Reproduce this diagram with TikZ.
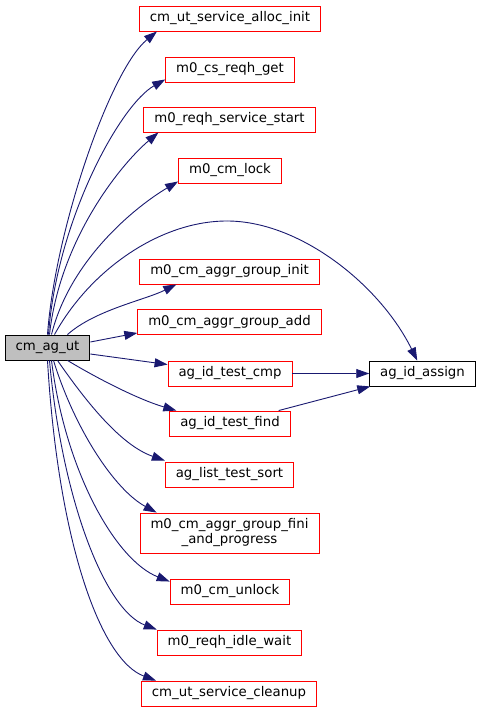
\documentclass[tikz,border=0pt]{standalone}
\usepackage{fontspec}
\setmainfont{DejaVu Sans}
\usepackage{xcolor}
\definecolor{callblue}{RGB}{25, 25, 112}
\definecolor{fnred}{RGB}{255, 0, 0}
\definecolor{fngray}{RGB}{191, 191, 191}
\usetikzlibrary{arrows.meta}

\tikzset{
    fn/.style={draw=fnred, fill=white, line width=0.9bp, inner xsep=10.5bp, inner ysep=0pt,
        minimum height=25bp, font=\fontsize{13.3bp}{15bp}\selectfont, align=center},
    call/.style={->, draw=callblue, line width=0.9bp}
}

\begin{document}
\begin{tikzpicture}[x=1bp, y=-1bp, >={Triangle[length=13bp, width=9bp]}]
\useasboundingbox (0,0) rectangle (481,712);

% === Funcion raiz ===
\node[fn, draw=black, fill=fngray] (agut) at (47.5,347.5) {cm\_ag\_ut};

% === Funciones llamadas ===
\node[fn] (allocinit) at (230,18.5) {cm\_ut\_service\_alloc\_init};
\node[fn] (reqhget) at (230,69.5) {m0\_cs\_reqh\_get};
\node[fn] (svcstart) at (229.5,119.5) {m0\_reqh\_service\_start};
\node[fn] (cmlock) at (230,170.5) {m0\_cm\_lock};
\node[fn] (grpinit) at (229.5,271.5) {m0\_cm\_aggr\_group\_init};
\node[fn] (grpadd) at (229.5,322) {m0\_cm\_aggr\_group\_add};
\node[fn] (testcmp) at (230,373.5) {ag\_id\_test\_cmp};
\node[fn, draw=black] (idassign) at (422.5,373.5) {ag\_id\_assign};
\node[fn] (testfind) at (230,423.5) {ag\_id\_test\_find};
\node[fn] (listsort) at (229.5,474.5) {ag\_list\_test\_sort};
\node[fn, minimum height=40bp] (grpfini) at (229.5,533) {m0\_cm\_aggr\_group\_fini\\\_and\_progress};
\node[fn] (cmunlock) at (230,591.5) {m0\_cm\_unlock};
\node[fn] (idlewait) at (229.5,642.5) {m0\_reqh\_idle\_wait};
\node[fn] (cleanup) at (229,693.5) {cm\_ut\_service\_cleanup};

% === Llamadas hacia arriba ===
\draw[call] (agut.north) .. controls (55,230) and (110,70) .. ([xshift=18bp]allocinit.south west);
\draw[call] ([xshift=1bp]agut.north) .. controls (57,220) and (120,105) .. ([yshift=3bp]reqhget.south west);
\draw[call] ([xshift=2bp]agut.north) .. controls (60,240) and (120,165) .. ([xshift=15bp]svcstart.south west);
\draw[call] ([xshift=4bp]agut.north) .. controls (70,260) and (135,207) .. ([yshift=2bp]cmlock.south west);

% arco largo hasta ag_id_assign
\coordinate (arctop) at (227,221);
\draw[call, -] ([xshift=7bp]agut.north) .. controls (90,270) and (160,221) .. (arctop);
\draw[call] (arctop) .. controls (300,221) and (380,285) .. ([xshift=48bp]idassign.north west);

\draw[call] ([xshift=20bp]agut.north) .. controls (95,310) and (145,300) .. ([xshift=37bp]grpinit.south west);
\draw[call] ([yshift=5.5bp]agut.east) -- ([yshift=2bp]grpadd.south west);

% === Llamadas hacia abajo ===
\draw[call] ([yshift=-6.5bp]agut.east) -- ([yshift=-4bp]testcmp.north west);
\draw[call] ([xshift=20bp]agut.south) .. controls (100,380) and (140,400) .. ([xshift=7bp]testfind.north west);
\draw[call] ([xshift=10bp]agut.south) .. controls (85,400) and (120,445) .. ([yshift=1bp]listsort.north west);
\draw[call] ([xshift=6bp]agut.south) .. controls (75,430) and (115,490) .. ([xshift=17bp]grpfini.north west);
\draw[call] ([xshift=4bp]agut.south) .. controls (65,470) and (115,560) .. ([yshift=-3bp]cmunlock.north west);
\draw[call] ([xshift=2bp]agut.south) .. controls (62,500) and (105,610) .. (idlewait.north west);
\draw[call] (agut.south) .. controls (58,540) and (100,660) .. ([xshift=15bp]cleanup.north west);

% === ag_id_assign ===
\draw[call] (testcmp.east) -- (idassign.west);
\draw[call] ([xshift=-12bp]testfind.north east) -- ([xshift=1bp]idassign.south west);

\end{tikzpicture}
\end{document}
